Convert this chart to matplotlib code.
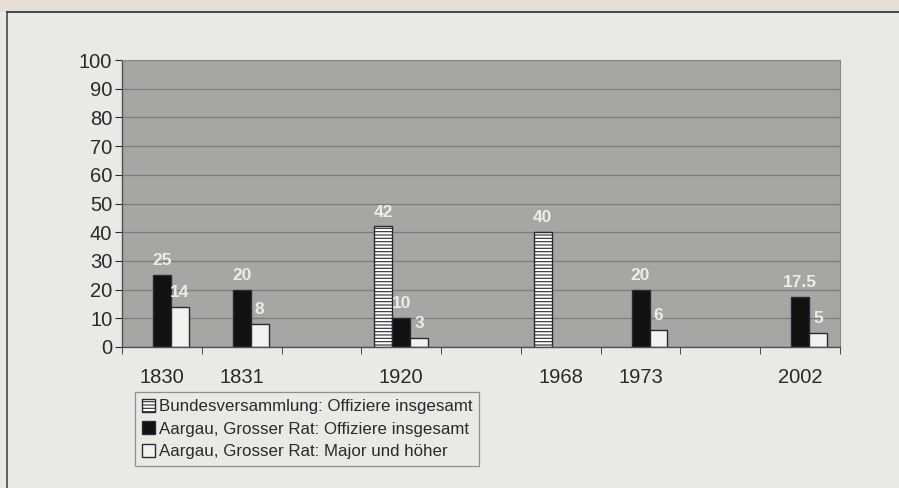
import numpy as np
import matplotlib.pyplot as plt
from matplotlib.patches import Rectangle
from matplotlib.lines import Line2D

# --- data ---
years = ["1830", "1831", "", "1920", "", "1968", "1973", "", "2002"]
bundes_offiziere = [np.nan, np.nan, np.nan, 42, np.nan, 40, np.nan, np.nan, np.nan]
aargau_offiziere = [25, 20, np.nan, 10, np.nan, np.nan, 20, np.nan, 17.5]
aargau_major = [14, 8, np.nan, 3, np.nan, np.nan, 6, np.nan, 5]

series_names = [
    "Bundesversammlung: Offiziere insgesamt",
    "Aargau, Grosser Rat: Offiziere insgesamt",
    "Aargau, Grosser Rat: Major und höher",
]

plt.rcParams["font.family"] = ["Liberation Sans", "DejaVu Sans"]
plt.rcParams["hatch.linewidth"] = 0.8
plt.rcParams["hatch.color"] = "#222228"

bg = "#e9e9e5"
plot_bg = "#a6a6a4"
text_col = "#2a2a2e"
edge = "#2a2a35"

fig = plt.figure(figsize=(8.99, 4.88), dpi=100, facecolor=bg)
ax = fig.add_axes([122 / 899, 1 - 347 / 488, 718 / 899, 287 / 488])
ax.set_facecolor(plot_bg)

# beige strip above the frame, then the frame's left and top lines
fig.patches.append(Rectangle((0, 1 - 12 / 488), 1, 12 / 488, transform=fig.transFigure,
                             facecolor="#e6dfd8", edgecolor="none"))
fig.lines.append(Line2D([7 / 899, 7 / 899], [0, 1 - 12 / 488], transform=fig.transFigure,
                        color="#55555a", linewidth=1.3))
fig.lines.append(Line2D([7 / 899, 1], [1 - 12 / 488, 1 - 12 / 488], transform=fig.transFigure,
                        color="#3a3a45", linewidth=1.3))

x = np.arange(len(years))
w = 0.225

ax.bar(x - w, bundes_offiziere, w, color="white", edgecolor=edge,
       linewidth=1, hatch="-----", label=series_names[0])
ax.bar(x, aargau_offiziere, w, color="#111111", edgecolor=edge,
       linewidth=1, label=series_names[1])
ax.bar(x + w, aargau_major, w, color="#f2f2ee", edgecolor=edge,
       linewidth=1, label=series_names[2])

# value labels
for xs, vals in [(x - w, bundes_offiziere), (x, aargau_offiziere), (x + w, aargau_major)]:
    for xi, v in zip(xs, vals):
        if np.isnan(v):
            continue
        ax.annotate(f"{v:g}", (xi, v), xytext=(0, 5), textcoords="offset points",
                    ha="center", va="bottom", fontsize=12.5, fontweight="bold",
                    color="#ececea")

ax.set_xlim(-0.5, len(years) - 0.5)
ax.set_ylim(0, 100)
ax.set_yticks(range(0, 101, 10))
ax.grid(axis="y", color="#7c7c7c", linewidth=0.9)
ax.set_axisbelow(True)

ax.set_xticks(x)
ax.set_xticklabels(years)
ax.set_xticks(np.arange(-0.5, len(years) - 0.4, 1), minor=True)
ax.tick_params(axis="x", which="major", length=0, pad=15, labelsize=14.5,
               labelcolor=text_col)
ax.tick_params(axis="x", which="minor", length=5, color=edge, direction="out")
ax.tick_params(axis="y", length=5, pad=2, labelsize=14.5, labelcolor=text_col,
               color=edge)

for s in ["top", "right"]:
    ax.spines[s].set_color("#8a8a8a")
    ax.spines[s].set_linewidth(0.8)
for s in ["left", "bottom"]:
    ax.spines[s].set_color("#50505a")
    ax.spines[s].set_linewidth(1)

leg = ax.legend(loc="upper left", bbox_to_anchor=(135 / 899, 1 - 392 / 488),
                bbox_transform=fig.transFigure, frameon=True, fancybox=False,
                fontsize=12.2, handlelength=0.8, handleheight=0.8,
                handletextpad=0.2, borderpad=0.4, labelspacing=0.42,
                borderaxespad=0, labelcolor=text_col)
leg.get_frame().set_facecolor(bg)
leg.get_frame().set_edgecolor("#7a7a7e")
leg.get_frame().set_linewidth(0.9)

fig.savefig("out.png", dpi=100, facecolor=bg)
